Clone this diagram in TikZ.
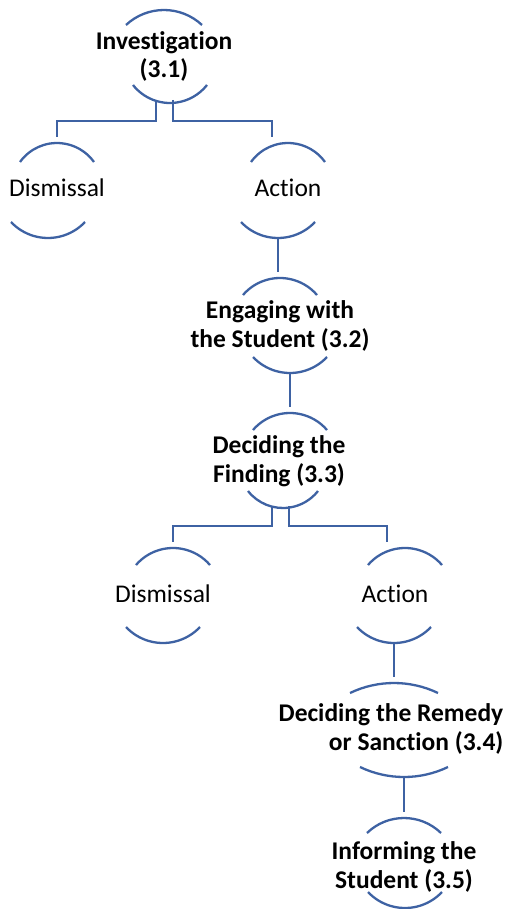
\documentclass[tikz,border=0pt]{standalone}
\usepackage{fontspec}
\setmainfont{Carlito}[Ligatures={NoCommon,NoContextual},RawFeature={-calt}]
\definecolor{ringblue}{RGB}{62,98,163}
\tikzset{
  ring/.style={draw=ringblue, line width=2.3pt},
  link/.style={draw=ringblue, line width=2.3pt},
  stage/.style={font=\bfseries\fontsize{25.5}{28.5}\selectfont, align=center, inner sep=0pt, anchor=base},
  outcome/.style={font=\fontsize{25.5}{28.5}\selectfont, inner sep=0pt, anchor=base},
}
\begin{document}
\begin{tikzpicture}[x=1pt,y=1pt]
\useasboundingbox (0,0) rectangle (510,-909);

% texts (base = last line)
\node[stage] (inv) at (164,-78) {Investigation\\(3.1)};
\node[outcome] (dis1) at (57,-197) {Dismissal};
\node[outcome] (act1) at (288,-197) {Action};
\node[stage] (eng) at (280,-347) {Engaging with\\the Student (3.2)};
\node[stage] (find) at (279,-482) {Deciding the\\Finding (3.3)};
\node[outcome] (dis2) at (163,-602) {Dismissal};
\node[outcome] (act2) at (395,-602) {Action};
\node[stage, align=right] (rem) at (391,-750) {Deciding the Remedy\\or Sanction (3.4)};
\node[stage] (inf) at (404,-888) {Informing the\\Student (3.5)};

% upper arcs: centre x / top y / half width / sag
\foreach \cx/\ty/\w/\s in {164/10/38/15, 57/143/37/19, 288/143/37/19,
    280/278/37/17, 290/413/37/17, 173/548/37/17, 405/548/37/17,
    394/683/44/10, 404/818/37/15}{
  \pgfmathsetmacro\r{(\w*\w+\s*\s)/(2*\s)}
  \pgfmathsetmacro\a{asin(\w/\r)}
  \draw[ring] (\cx-\w,-\ty-\s) arc[start angle=90+\a, end angle=90-\a, radius=\r pt];
}
% lower arcs: centre x / bottom y / half width / sag
\foreach \cx/\by/\w/\s in {170/103/37/18, 48/238/37/16, 278/238/37/16,
    290/373/37/16, 283/508/35/17, 163/643/37/16, 394/643/37/16,
    404/777/44/10, 405/908/37/16}{
  \pgfmathsetmacro\r{(\w*\w+\s*\s)/(2*\s)}
  \pgfmathsetmacro\a{asin(\w/\r)}
  \draw[ring] (\cx-\w,-\by+\s) arc[start angle=270-\a, end angle=270+\a, radius=\r pt];
}

% connector ends
\coordinate (inv-l) at (156,-100);
\coordinate (inv-r) at (173,-100);
\coordinate (dis1-in) at (57,-137);
\coordinate (act1-in) at (272,-137);
\coordinate (act1-out) at (278,-238);
\coordinate (eng-in) at (278,-272);
\coordinate (eng-out) at (290,-373);
\coordinate (find-in) at (290,-407);
\coordinate (find-l) at (272,-506);
\coordinate (find-r) at (289,-506);
\coordinate (dis2-in) at (173,-542);
\coordinate (act2-in) at (387,-542);
\coordinate (act2-out) at (394,-643);
\coordinate (rem-in) at (394,-677);
\coordinate (rem-out) at (404,-777);
\coordinate (inf-in) at (404,-812);

\draw[link] (inv-l) -- ++(0,-21) -| (dis1-in);
\draw[link] (inv-r) -- ++(0,-21) -| (act1-in);
\draw[link] (act1-out) -- (eng-in);
\draw[link] (eng-out) -- (find-in);
\draw[link] (find-l) -- ++(0,-20) -| (dis2-in);
\draw[link] (find-r) -- ++(0,-20) -| (act2-in);
\draw[link] (act2-out) -- (rem-in);
\draw[link] (rem-out) -- (inf-in);
\end{tikzpicture}
\end{document}
